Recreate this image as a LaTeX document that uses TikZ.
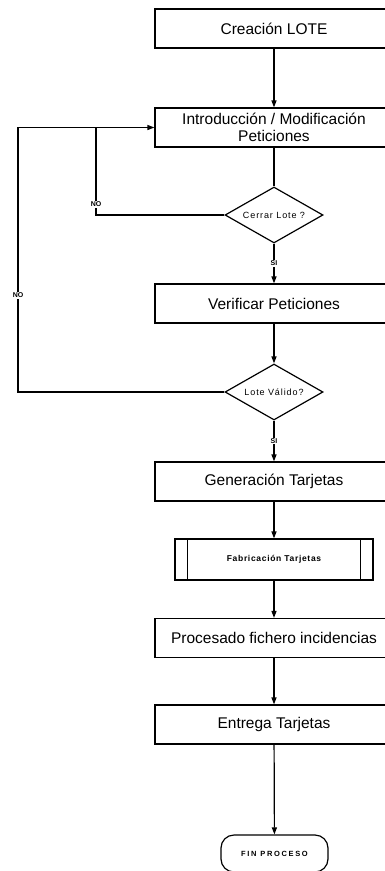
\documentclass[tikz,border=0pt]{standalone}
\usepackage{fontspec}
\setmainfont{Liberation Sans}
\usetikzlibrary{shapes.geometric,arrows.meta}
\begin{document}
\begin{tikzpicture}[x=1pt,y=-1pt,
  line width=1.2pt,
  proc/.style={draw, rectangle, minimum width=238pt, minimum height=39pt,
    inner sep=0pt, align=center, font=\fontsize{15.5}{17}\selectfont},
  sub/.style={draw, rectangle, minimum width=198pt, minimum height=41pt,
    inner sep=0pt, font=\fontsize{8.5}{10}\selectfont\bfseries\addfontfeature{LetterSpace=8}},
  decis/.style={draw, diamond, minimum width=98pt, minimum height=56pt,
    inner sep=0pt, aspect=1.75, font=\fontsize{9}{10}\selectfont\addfontfeature{LetterSpace=10}},
  term/.style={draw, rectangle, rounded corners=13pt, minimum width=107pt,
    minimum height=37pt, inner sep=0pt,
    font=\fontsize{7.5}{9}\selectfont\bfseries\addfontfeature{LetterSpace=22}},
  lbl/.style={fill=white, inner sep=1pt, font=\fontsize{7}{8}\selectfont\bfseries},
  arr/.style={-{Triangle[length=7pt,width=5pt]}}]
\useasboundingbox (0,0) rectangle (384,871);

% main column of steps
\node[proc] (b1) at (274,28.5) {Creación LOTE};
\node[proc] (b2) at (274,127.5) {Introducción / Modificación\\Peticiones};
\node[decis] (d1) at (274,215) {Cerrar Lote ?};
\node[proc] (b3) at (274,303.5) {Verificar Peticiones};
\node[decis] (d2) at (274,392) {Lote Válido?};
\node[proc] (b4) at (274,481.5) {Generación Tarjetas};
\node[sub] (b5) at (274,559.5) {Fabricación Tarjetas};
\node[proc] (b6) at (274,638) {Procesado fichero incidencias};
\node[proc] (b7) at (274,724.5) {Entrega Tarjetas};
\node[term] (t1) at (274.5,853.5) {FIN PROCESO};

% side bars of the predefined process
\draw ([xshift=13pt]b5.north west) -- ([xshift=13pt]b5.south west);
\draw ([xshift=-13pt]b5.north east) -- ([xshift=-13pt]b5.south east);

% forward flow
\draw[arr] (b1) -- (b2);
\draw (b2) -- (d1);
\draw[arr] (d1) -- node[lbl, pos=0.5] (si1) {SI} (b3);
\draw[arr] (b3) -- (d2);
\draw[arr] (d2) -- node[lbl, pos=0.5] (si2) {SI} (b4);
\draw[arr] (b4) -- (b5);
\draw[arr] (b5) -- (b6);
\draw[arr] (b6) -- (b7);
\draw[arr] (b7) -- (t1);

% loops back to the request entry step
\coordinate (j1) at (96,127.5);
\coordinate (k1) at (18,127.5);
\draw (d1.west) -| node[lbl, pos=0.56] (no1) {NO} (j1);
\draw[arr] (d2.west) -| node[lbl, pos=0.683] (no2) {NO} (k1) -- (b2.west);
\end{tikzpicture}
\end{document}
